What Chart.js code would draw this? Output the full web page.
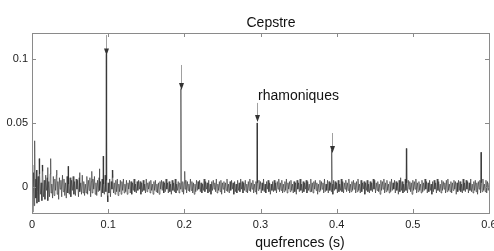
<!DOCTYPE html>
<html><head><meta charset="utf-8">
<script src="https://cdn.jsdelivr.net/npm/chart.js@4/dist/chart.umd.min.js"></script>
<style>html,body{margin:0;padding:0;background:#fff}#wrap{width:494px;height:251px}</style>
</head><body><div id="wrap"><canvas id="c" width="494" height="251"></canvas></div>
<script>
// ---- data ----
const titleText = "Cepstre";
const xLabel = "quefrences (s)";
const noteText = "rhamoniques";
const xTicks = [0, 0.1, 0.2, 0.3, 0.4, 0.5, 0.6];
const yTicks = [0, 0.05, 0.1];
const noiseStep = 0.001; // seconds between background samples
// background cepstrum samples, in units of 1e-3
const noiseMilli = [
17,-20,11,-15,6,-9,13,-4,8,-12,10,-6,3,-11,12,-8,5,-10,9,-3,
7,-11,4,-8,10,-5,2,-9,8,-7,6,-3,9,-6,4,-10,7,-2,5,-8,
9,-4,6,-7,3,-9,8,-5,2,-6,7,-8,5,-3,8,-6,4,-7,6,-2,
5,-8,7,-4,3,-6,9,-5,4,-7,2,-5,8,-6,5,-3,7,-8,4,-5,
6,-2,8,-6,3,-7,5,-4,7,-3,4,-8,6,-5,2,-6,9,-4,5,-7,
3,-5,6,-8,4,-2,7,-5,3,-6,5,-4,6,-7,2,-4,5,-6,4,-3,
6,-5,2,-4,5,-6,3,-2,5,-5,4,-6,3,-3,6,-4,2,-5,4,-3,
5,-2,4,-6,3,-4,5,-3,2,-5,6,-4,3,-2,4,-5,5,-3,2,-6,
4,-3,5,-4,2,-5,3,-6,4,-2,5,-3,4,-5,3,-4,6,-2,3,-5,
4,-4,2,-6,5,-3,3,-4,6,-5,2,-3,4,-5,3,-2,5,-4,4,-6,
3,-2,5,-5,4,-3,2,-4,6,-3,4,-5,3,-6,2,-4,5,-3,4,-2,
5,-4,3,-5,2,-3,6,-4,4,-2,3,-5,5,-4,2,-6,4,-3,5,-2,
3,-4,6,-5,2,-3,4,-4,5,-6,3,-2,4,-5,3,-3,6,-4,2,-5,
4,-3,5,-2,3,-6,4,-4,2,-5,5,-3,3,-4,6,-2,4,-5,3,-3,
5,-4,2,-5,4,-3,6,-4,3,-2,5,-5,2,-4,4,-6,3,-3,5,-2,
4,-5,3,-3,6,-4,2,-5,4,-2,5,-4,3,-6,2,-3,4,-4,5,-3,
3,-5,4,-2,6,-4,3,-3,5,-5,2,-4,4,-3,6,-5,3,-2,4,-4,
5,-3,2,-5,4,-4,3,-6,5,-2,3,-4,6,-3,2,-5,4,-4,3,-2,
5,-5,4,-3,2,-4,6,-4,3,-5,4,-2,5,-3,3,-6,2,-4,5,-3,
4,-2,3,-5,6,-4,2,-3,5,-5,4,-3,3,-4,2,-6,5,-3,4,-2,
3,-5,5,-4,2,-3,6,-4,4,-5,3,-2,5,-4,3,-3,6,-5,2,-4,
4,-3,5,-2,3,-5,4,-4,6,-3,2,-5,5,-4,3,-2,4,-6,3,-3,
5,-4,2,-5,4,-3,3,-4,6,-2,5,-5,3,-3,4,-4,2,-6,5,-3,
4,-2,6,-5,3,-4,5,-3,2,-5,4,-4,6,-3,3,-2,5,-5,4,-3,
3,-6,5,-4,7,-3,4,-5,2,-4,6,-3,3,-5,5,-2,4,-4,3,-6,
5,-3,4,-2,6,-5,3,-4,4,-3,2,-5,5,-4,3,-3,6,-2,4,-5,
3,-4,5,-3,2,-6,4,-4,5,-2,3,-5,6,-3,4,-4,2,-5,5,-3,
4,-2,3,-5,5,-4,6,-3,2,-4,4,-5,3,-3,5,-2,4,-6,3,-4,
5,-3,4,-4,2,-5,6,-3,3,-4,5,-2,4,-5,3,-3,6,-4,2,-5,
4,-3,5,-4,3,-6,4,-2,5,-5,3,-4,6,-3,2,-4,5,-5,4,-3,
3
];
// isolated peaks (quefrency s, value)
const peakX = [0.0035, 0.0065, 0.0095, 0.0135, 0.0205, 0.0245, 0.0325, 0.0475, 0.0625, 0.0785, 0.0885, 0.0935, 0.0975, 0.0995, 0.1055, 0.1955, 0.2005, 0.2955, 0.3935, 0.4915, 0.5895];
const peakY = [0.036, -0.013, 0.022, 0.017, 0.015, 0.022, 0.013, 0.016, 0.011, 0.012, 0.014, 0.024, 0.104, -0.012, 0.013, 0.077, 0.012, 0.050, 0.029, 0.030, 0.027];
// harmonic arrows
const arrowX = [0.0975, 0.1955, 0.2955, 0.3935];
const arrowTop = [0.119, 0.0955, 0.0657, 0.0421];
const arrowTip = [0.103, 0.0759, 0.0508, 0.0264];

// ---- build series ----
const pts = noiseMilli.map((v, i) => ({x: i * noiseStep, y: v / 1000}));
peakX.forEach((x, i) => pts.push({x: x, y: peakY[i]}));
pts.sort((a, b) => a.x - b.x);

const FONT = "'Liberation Sans', Arial, sans-serif";
const frameColor = '#8a8a8a';

const decor = {
  id: 'decor',
  afterDatasetsDraw(chart) {
    const ctx = chart.ctx, a = chart.chartArea;
    const xs = chart.scales.x, ys = chart.scales.y;
    ctx.save();
    ctx.strokeStyle = frameColor; ctx.lineWidth = 1;
    ctx.strokeRect(Math.round(a.left) + 0.5, Math.round(a.top) + 0.5, Math.round(a.right - a.left), Math.round(a.bottom - a.top));
    ctx.beginPath();
    xTicks.forEach(t => {
      const px = Math.round(xs.getPixelForValue(t)) + 0.5;
      ctx.moveTo(px, a.bottom); ctx.lineTo(px, a.bottom - 4);
      ctx.moveTo(px, a.top); ctx.lineTo(px, a.top + 4);
    });
    yTicks.forEach(t => {
      const py = Math.round(ys.getPixelForValue(t)) + 0.5;
      ctx.moveTo(a.left, py); ctx.lineTo(a.left + 4, py);
      ctx.moveTo(a.right, py); ctx.lineTo(a.right - 4, py);
    });
    ctx.stroke();
    arrowX.forEach((x, i) => {
      const px = Math.round(xs.getPixelForValue(x)) + 0.5;
      const pt = ys.getPixelForValue(arrowTop[i]);
      const pb = ys.getPixelForValue(arrowTip[i]);
      ctx.strokeStyle = '#a0a0a0'; ctx.lineWidth = 1;
      ctx.beginPath(); ctx.moveTo(px, pt); ctx.lineTo(px, pb - 6); ctx.stroke();
      ctx.fillStyle = '#333';
      ctx.beginPath(); ctx.moveTo(px - 2.5, pb - 7); ctx.lineTo(px + 2.5, pb - 7); ctx.lineTo(px, pb); ctx.closePath(); ctx.fill();
    });
    ctx.fillStyle = '#111';
    ctx.font = '14px ' + FONT;
    ctx.textBaseline = 'alphabetic';
    ctx.textAlign = 'center';
    ctx.fillText(titleText, 271, 27);
    ctx.fillText(xLabel, 300, 247);
    ctx.textAlign = 'left';
    ctx.fillText(noteText, 258, 100);
    ctx.restore();
  }
};

new Chart(document.getElementById('c'), {
  type: 'scatter',
  data: { datasets: [{
    data: pts, showLine: true, pointRadius: 0, borderColor: '#2a2a2a', borderWidth: 0.6, tension: 0
  }]},
  options: {
    responsive: false, animation: false,
    layout: { padding: { top: 33, right: 5, left: 0, bottom: 0 } },
    plugins: { legend: { display: false }, tooltip: { enabled: false }, title: { display: false } },
    scales: {
      x: {
        type: 'linear', min: 0, max: 0.6,
        grid: { display: false, drawTicks: false }, border: { display: false },
        afterBuildTicks: s => { s.ticks = xTicks.map(v => ({value: v})); },
        afterFit: s => { s.height = 38; s.paddingLeft = 0; s.paddingRight = 0; },
        ticks: { padding: 5, maxRotation: 0, color: '#222', font: { family: FONT, size: 11 },
          callback: v => String(v) }
      },
      y: {
        type: 'linear', min: -0.0207, max: 0.1206,
        grid: { display: false, drawTicks: false }, border: { display: false },
        afterBuildTicks: s => { s.ticks = yTicks.map(v => ({value: v})); },
        afterFit: s => { s.width = 32; s.paddingTop = 0; s.paddingBottom = 0; },
        ticks: { padding: 4, color: '#222', font: { family: FONT, size: 11 },
          callback: v => String(v) }
      }
    }
  },
  plugins: [decor]
});
</script>
</body></html>
